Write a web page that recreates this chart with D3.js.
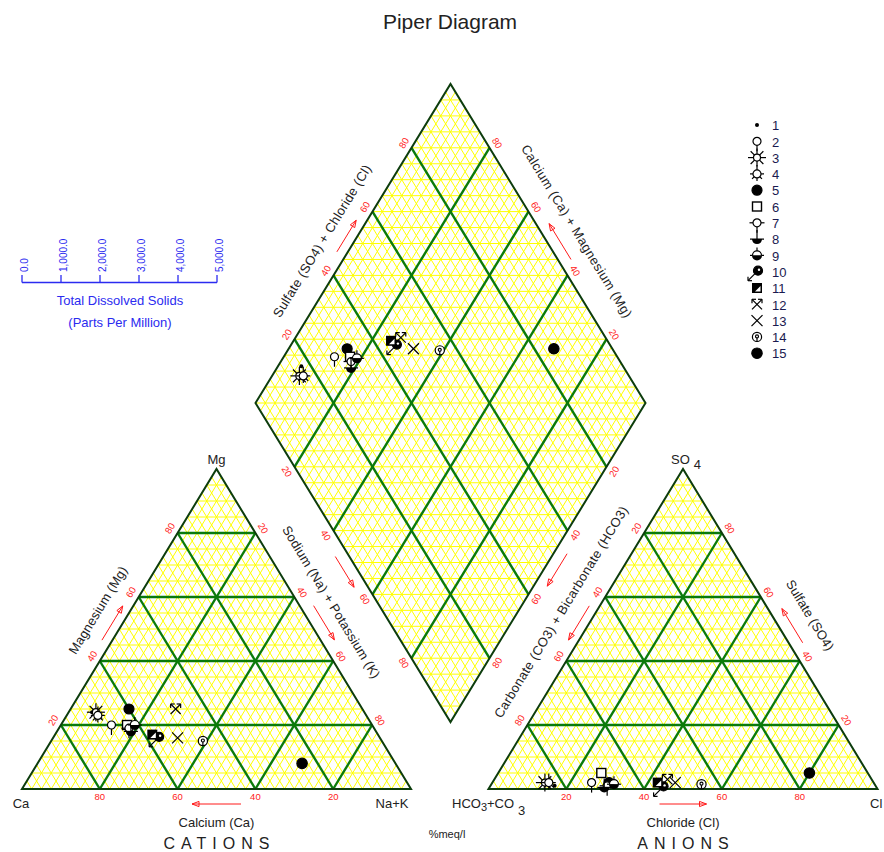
<!DOCTYPE html>
<html>
<head>
<meta charset="utf-8">
<title>Piper Diagram</title>
<script src="https://cdn.jsdelivr.net/npm/d3@7"></script>
<style>
  body { margin: 0; background: #fff; }
  svg { display: block; font-family: "Liberation Sans", Arial, sans-serif; }
</style>
</head>
<body>
<svg id="chart" width="884" height="852"></svg>
<script>
// sample data (% meq/l)
const samples = ["1", "2", "3", "4", "5", "6", "7", "8", "9", "10", "11", "12", "13", "14", "15"];
const caPct   = [70, 67, 69, 69, 60, 63, 63, 63, 61, 57, 58, 48, 52, 46, 24];
const mgPct   = [24, 20, 24, 23, 25, 20, 19, 18, 20, 16, 17, 25, 16, 15, 8];
const nakPct  = [6, 13, 7, 8, 15, 17, 18, 19, 19, 27, 25, 27, 32, 39, 68];
const hco3Pct = [82.5, 72.5, 84.5, 83.5, 68, 68.5, 69, 70, 67, 55, 55.5, 52.5, 51, 44.5, 15];
const so4Pct  = [1, 2, 2, 2, 2, 5, 1, 0.5, 1.5, 0.5, 2, 3, 2, 1.5, 5];
const clPct   = [16.5, 25.5, 13.5, 14.5, 30, 26.5, 30, 29.5, 31.5, 44.5, 42.5, 44.5, 47, 54, 80];

const gridTicks = [20, 40, 60, 80];
const tdsTicks = [0, 1000, 2000, 3000, 4000, 5000];

const side = 389, triH = 320, base = 789;

const svg = d3.select("#chart");

// scales
const catX = d3.scaleLinear().domain([0, 100]).range([22, 22 + side]);
const anX = d3.scaleLinear().domain([0, 100]).range([488.5, 488.5 + side]);
const triY = d3.scaleLinear().domain([0, 100]).range([base, base - triH]);
const dX = d3.scaleLinear().domain([0, 200]).range([255.5, 645.5]);
const dY = d3.scaleLinear().domain([-100, 100]).range([84, 722]);

// [top, right] -> pixel
const catPt = (t, r) => [catX(r + t / 2), triY(t)];
const anPt = (t, r) => [anX(r + t / 2), triY(t)];
// [Na+K, SO4+Cl] -> pixel
const dPt = (n, a) => [dX(n + a), dY(n - a)];

const ang = Math.atan2(triH, side / 2);
const sn = Math.sin(ang), cs = Math.cos(ang);
const line = d3.line();

const YELLOW = "#ffff00", GREEN = "#0b7a0b", EDGE = "#0d3d0d", RED = "#ff1a1a";

// flat lines every 5 %, slanted lines every 2.5 %
const flatMinor = d3.range(5, 100, 5).filter(v => v % 20 !== 0);
const slantMinor = d3.range(2.5, 100, 2.5).filter(v => v % 20 !== 0);

function triLines(flat, slant) {
  const out = [];
  flat.forEach(v => out.push([[v, 0], [v, 100 - v]]));
  slant.forEach(v => {
    out.push([[0, v], [100 - v, v]]);
    out.push([[0, 100 - v], [100 - v, 0]]);
  });
  return out;
}

function diamondLines(slant, flat) {
  const out = [];
  slant.forEach(v => {
    out.push([[v, 0], [v, 100]]);
    out.push([[0, v], [100, v]]);
  });
  flat.forEach(c => {
    const n1 = Math.max(0, c), n2 = Math.min(100, 100 + c);
    out.push([[n1, n1 - c], [n2, n2 - c]]);
  });
  return out;
}

function drawGrid(g, pt, outline, minorLines, majorLines) {
  g.append("path")
    .attr("d", line(outline.map(p => pt(p[0], p[1]))) + "Z")
    .attr("fill", "#fff");
  g.append("g")
    .attr("stroke", YELLOW).attr("stroke-width", 1)
    .selectAll("path").data(minorLines).join("path")
    .attr("d", d => line(d.map(p => pt(p[0], p[1]))));
  g.append("g")
    .attr("stroke", GREEN).attr("stroke-width", 2.4)
    .selectAll("path").data(majorLines).join("path")
    .attr("d", d => line(d.map(p => pt(p[0], p[1]))));
  g.append("path")
    .attr("d", line(outline.map(p => pt(p[0], p[1]))) + "Z")
    .attr("fill", "none").attr("stroke", EDGE).attr("stroke-width", 2)
    .attr("stroke-linejoin", "miter");
}

const grids = svg.append("g");
drawGrid(grids, dPt, [[0, 0], [0, 100], [100, 100], [100, 0]],
  diamondLines(slantMinor, d3.range(-95, 100, 5)), diamondLines(gridTicks, []));
drawGrid(grids, catPt, [[0, 0], [0, 100], [100, 0]],
  triLines(flatMinor, slantMinor), triLines(gridTicks, gridTicks));
drawGrid(grids, anPt, [[0, 0], [0, 100], [100, 0]],
  triLines(flatMinor, slantMinor), triLines(gridTicks, gridTicks));

// tick labels
const labels = svg.append("g").attr("font-size", 9.5).attr("fill", RED);
const deg = ang * 180 / Math.PI;
function tick(p, nrm, rot, text) {
  labels.append("text")
    .attr("transform", `translate(${p[0] + 9 * nrm[0]},${p[1] + 9 * nrm[1]}) rotate(${rot})`)
    .attr("text-anchor", "middle").attr("dy", "0.35em")
    .text(text);
}
gridTicks.forEach(v => {
  tick(catPt(v, 0), [-sn, -cs], -deg, v);
  tick(catPt(100 - v, v), [sn, -cs], deg, v);
  tick(catPt(0, 100 - v), [0, 0.9], 0, v);
  tick(anPt(100 - v, 0), [-sn, -cs], -deg, v);
  tick(anPt(v, 100 - v), [sn, -cs], deg, v);
  tick(anPt(0, v), [0, 0.9], 0, v);
  tick(dPt(0, v), [-sn, -cs], -deg, v);
  tick(dPt(100 - v, 100), [sn, -cs], deg, v);
  tick(dPt(v, 0), [-sn, cs], deg, v);
  tick(dPt(100, 100 - v), [sn, cs], -deg, v);
});

// axis titles and arrows
const titles = svg.append("g").attr("font-size", 13).attr("fill", "#222");
const arrows = svg.append("g").attr("stroke", RED).attr("fill", "none").attr("stroke-width", 1);

function edgeFrame(p0, p1) {
  const dx = p1[0] - p0[0], dy = p1[1] - p0[1], L = Math.hypot(dx, dy);
  return { ux: dx / L, uy: dy / L, mx: (p0[0] + p1[0]) / 2, my: (p0[1] + p1[1]) / 2 };
}
function edgeTitle(p0, p1, nrm, off, along, text, len) {
  const f = edgeFrame(p0, p1);
  let rot = Math.atan2(f.uy, f.ux) * 180 / Math.PI;
  if (rot > 90) rot -= 180;
  if (rot < -90) rot += 180;
  const x = f.mx + f.ux * along + nrm[0] * off, y = f.my + f.uy * along + nrm[1] * off;
  const t = titles.append("text")
    .attr("transform", `translate(${x},${y}) rotate(${rot})`)
    .attr("text-anchor", "middle").attr("dy", "0.35em")
    .text(text);
  if (len) t.attr("textLength", len).attr("lengthAdjust", "spacing");
}
function edgeArrow(p0, p1, nrm, off, along, len, forward) {
  const f = edgeFrame(p0, p1);
  const cx = f.mx + f.ux * along + nrm[0] * off, cy = f.my + f.uy * along + nrm[1] * off;
  const s = forward ? 1 : -1;
  const ux = f.ux * s, uy = f.uy * s;
  const tail = [cx - ux * len / 2, cy - uy * len / 2], tip = [cx + ux * len / 2, cy + uy * len / 2];
  arrows.append("path").attr("d", line([tail, tip]));
  const b = [tip[0] - ux * 7, tip[1] - uy * 7];
  arrows.append("path")
    .attr("d", line([tip, [b[0] - uy * 2.6, b[1] + ux * 2.6], [b[0] + uy * 2.6, b[1] - ux * 2.6]]) + "Z");
}

const cL = catPt(0, 0), cR = catPt(0, 100), cT = catPt(100, 0);
const aL = anPt(0, 0), aR = anPt(0, 100), aT = anPt(100, 0);
const dL = dPt(0, 0), dT = dPt(0, 100), dR = dPt(100, 100), dB = dPt(100, 0);

edgeTitle(cL, cT, [-sn, -cs], 28, 5, "Magnesium (Mg)", 100);
edgeArrow(cL, cT, [-sn, -cs], 9, 1.5, 40, true);
edgeTitle(cT, cR, [sn, -cs], 29, -14, "Sodium (Na) + Potassium (K)", 176);
edgeArrow(cT, cR, [sn, -cs], 12, 0, 40, true);
edgeArrow(dL, dB, [-sn, cs], 12, 3.7, 36, true);
edgeTitle(cL, cR, [0, 1], 33, 0, "Calcium (Ca)");
edgeArrow(cL, cR, [0, 1], 15, 0, 49, false);

edgeTitle(aL, aT, [-sn, -cs], 30, 1.6, "Carbonate (CO3) + Bicarbonate (HCO3)", 245);
edgeArrow(aL, aT, [-sn, -cs], 9, 1.6, 40, false);
edgeArrow(dR, dB, [sn, cs], 11.7, 1.6, 38, true);
edgeTitle(aT, aR, [sn, -cs], 32.7, 3.6, "Sulfate (SO4)", 80);
edgeArrow(aT, aR, [sn, -cs], 12, 3.4, 40, false);
edgeTitle(aL, aR, [0, 1], 33, 0, "Chloride (Cl)");
edgeArrow(aL, aR, [0, 1], 15, 0, 47, true);

edgeTitle(dL, dT, [-sn, -cs], 27.7, -14, "Sulfate (SO4) + Chloride (Cl)", 176);
edgeArrow(dL, dT, [-sn, -cs], 9.4, 3, 37, true);
edgeTitle(dR, dT, [sn, -cs], 31, -4.3, "Calcium (Ca) + Magnesium (Mg)", 200);
edgeArrow(dR, dT, [sn, -cs], 11.3, -4.6, 42, true);

// vertex labels, headings
const txt = svg.append("g").attr("fill", "#222").attr("font-size", 13);
txt.append("text").attr("x", 450).attr("y", 29).attr("text-anchor", "middle")
  .attr("font-size", 21).text("Piper Diagram");
txt.append("text").attr("x", cT[0]).attr("y", 464).attr("text-anchor", "middle").text("Mg");
txt.append("text").attr("x", 21).attr("y", 808).attr("text-anchor", "middle").text("Ca");
txt.append("text").attr("x", 392).attr("y", 808).attr("text-anchor", "middle").text("Na+K");
const so = txt.append("text").attr("x", 671).attr("y", 464);
so.append("tspan").text("SO");
so.append("tspan").attr("dx", 4).attr("dy", 5).text("4");
const hc = txt.append("text").attr("x", 452).attr("y", 808);
hc.append("tspan").text("HCO");
hc.append("tspan").attr("dy", 3).attr("font-size", 11).text("3");
hc.append("tspan").attr("dy", -3).text("+CO");
hc.append("tspan").attr("dx", 4).attr("dy", 7).text("3");
txt.append("text").attr("x", 870).attr("y", 808).text("Cl");
txt.append("text").attr("x", 216.5).attr("y", 849).attr("text-anchor", "middle")
  .attr("font-size", 16).attr("letter-spacing", 6).attr("dx", 3).text("CATIONS");
txt.append("text").attr("x", 683).attr("y", 849).attr("text-anchor", "middle")
  .attr("font-size", 16).attr("letter-spacing", 6).attr("dx", 3).text("ANIONS");
txt.append("text").attr("x", 447).attr("y", 838).attr("text-anchor", "middle")
  .attr("font-size", 11).text("%meq/l");

// TDS scale
const tdsX = d3.scaleLinear().domain([0, 5000]).range([22, 217]);
const tds = svg.append("g").attr("fill", "#2b2bf0");
tds.append("path").attr("d", line([[tdsX(0), 282.5], [tdsX(5000), 282.5]]))
  .attr("stroke", "#2b2bf0").attr("stroke-width", 1.3);
tds.selectAll("line").data(tdsTicks).join("line")
  .attr("x1", d => tdsX(d)).attr("x2", d => tdsX(d))
  .attr("y1", 282.5).attr("y2", 275)
  .attr("stroke", "#2b2bf0").attr("stroke-width", 1.3);
tds.selectAll("text.tk").data(tdsTicks).join("text").attr("class", "tk")
  .attr("transform", d => `translate(${tdsX(d) + 2},272) rotate(-90)`)
  .attr("dy", "0.35em").attr("font-size", 10)
  .text(d => d3.format(",.1f")(d));
tds.append("text").attr("x", 120).attr("y", 305).attr("text-anchor", "middle")
  .attr("font-size", 13).text("Total Dissolved Solids");
tds.append("text").attr("x", 120).attr("y", 327).attr("text-anchor", "middle")
  .attr("font-size", 13).text("(Parts Per Million)");

// symbols
function marker(g, k) {
  const st = (sel, w) => sel.attr("stroke", "#000").attr("stroke-width", w || 1.2);
  const seg = (a, b) => st(g.append("path").attr("d", line([a, b])).attr("fill", "none"));
  const circ = (r, fill, cx, cy) => st(g.append("circle").attr("cx", cx || 0).attr("cy", cy || 0)
    .attr("r", r).attr("fill", fill));
  const ray = (a, r0, r1) => seg([r0 * Math.cos(a), r0 * Math.sin(a)], [r1 * Math.cos(a), r1 * Math.sin(a)]);
  const lowerHalf = r => g.append("path").attr("d", `M${-r},0A${r},${r} 0 0 0 ${r},0Z`).attr("fill", "#000");
  switch (k) {
    case 0:
      g.append("circle").attr("r", 2).attr("fill", "#000");
      break;
    case 1:
      seg([0, 4], [0, 10]);
      circ(4, "#fff");
      break;
    case 2:
      d3.range(8).forEach(i => ray(i * Math.PI / 4, 3.5, 9));
      circ(3.5, "#fff");
      break;
    case 3:
      [0, 45, 90, 135, 180].forEach(a => ray(a * Math.PI / 180, 4, 7));
      seg([0, -4], [0, -9]);
      circ(4, "#fff");
      break;
    case 4:
      circ(5, "#000");
      break;
    case 5:
      st(g.append("rect").attr("x", -4.5).attr("y", -4.5).attr("width", 9).attr("height", 9).attr("fill", "#fff"), 1.4);
      break;
    case 6:
      seg([-7.5, 0], [7.5, 0]);
      seg([0, 4], [0, 10]);
      circ(4, "#fff");
      break;
    case 7:
      seg([0, -9], [0, 0]);
      seg([-7, 0], [7, 0]);
      lowerHalf(5);
      break;
    case 8:
      seg([0, -8], [0, -4.5]);
      seg([-7, 0], [7, 0]);
      st(g.append("path").attr("d", "M-4.5,0A4.5,4.5 0 0 1 4.5,0").attr("fill", "#fff"));
      lowerHalf(5);
      break;
    case 9:
      seg([-1, 1], [-9, 9]);
      seg([-9, 9], [-9, 5]);
      seg([-9, 9], [-5, 9]);
      circ(4.5, "#000", 1, -1);
      g.append("circle").attr("cx", 2).attr("cy", -2).attr("r", 1.2).attr("fill", "#fff");
      break;
    case 10:
      g.append("rect").attr("x", -5).attr("y", -5).attr("width", 10).attr("height", 10).attr("fill", "#000");
      g.append("path").attr("d", "M3.5,-2L3.5,3.5L-2,3.5Z").attr("fill", "#fff");
      break;
    case 11:
      seg([-5, 5], [5, -5]);
      seg([5, 5], [-5, -5]);
      seg([-5, -5], [-1, -5]);
      seg([-5, -5], [-5, -1]);
      seg([5, -5], [1, -5]);
      seg([5, -5], [5, -1]);
      break;
    case 12:
      seg([-5.5, -5.5], [5.5, 5.5]);
      seg([-5.5, 5.5], [5.5, -5.5]);
      break;
    case 13:
      circ(4.6, "#fff");
      circ(1.5, "none", 0, -0.5);
      seg([0, 1], [0, 4.6]);
      break;
    case 14:
      circ(5.2, "#000");
      break;
  }
}

const idx = d3.range(samples.length);
const plots = [
  { pt: catPt, data: idx.map(i => [mgPct[i], nakPct[i]]) },
  { pt: anPt, data: idx.map(i => [so4Pct[i], clPct[i]]) },
  { pt: dPt, data: idx.map(i => [nakPct[i], so4Pct[i] + clPct[i]]) }
];
plots.forEach(p => {
  svg.append("g").selectAll("g").data(p.data).join("g")
    .attr("transform", d => { const q = p.pt(d[0], d[1]); return `translate(${q[0]},${q[1]})`; })
    .each(function (d, i) { marker(d3.select(this), i); });
});

// legend
const leg = svg.append("g").selectAll("g").data(samples).join("g")
  .attr("transform", (d, i) => `translate(757,${125 + i * 16.3})`);
leg.each(function (d, i) { marker(d3.select(this), i); });
leg.append("text").attr("x", 15).attr("dy", "0.4em")
  .attr("font-size", 13).attr("fill", "#1a1a50")
  .text(d => d);
</script>
</body>
</html>
